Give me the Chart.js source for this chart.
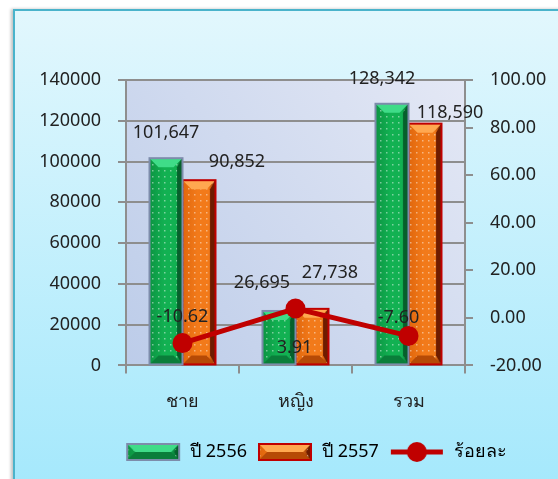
<!DOCTYPE html>
<html>
<head>
<meta charset="utf-8">
<script src="https://cdn.jsdelivr.net/npm/chart.js@4"></script>
<style>
html, body { margin: 0; padding: 0; background: #fff; overflow: hidden; }
#frame { position: absolute; left: 13px; top: 9px; width: 560px; height: 490px;
  border-left: 2px solid #4ab3cb; border-top: 2px solid #4ab3cb;
  background: linear-gradient(#e2f7fd, #a3e8fc); box-shadow: -2px 0 3px rgba(0,0,0,0.25); }
#wrap { position: absolute; left: 0; top: 0; width: 558px; height: 479px; }
</style>
</head>
<body>
<div id="frame"></div>
<div id="wrap"><canvas id="chart"></canvas></div>
<script>
const categories = ['ชาย', 'หญิง', 'รวม']
const year2556 = [101647, 26695, 128342]
const year2557 = [90852, 27738, 118590]
const percent = [-10.62, 3.91, -7.60]
const seriesNames = ['ปี 2556', 'ปี 2557', 'ร้อยละ']
const leftTicks = [0, 140000, 20000]    // min, max, step
const rightTicks = [-20, 100, 20]

// label nudges (px) relative to bar top / point, like the hand-moved labels in the original
const barShift = [[[0, -25], [-17, -28], [-10, -25]], [[38, -18], [18, -36], [25, -11]]]
const lineShift = [[0, -26], [-1, 39], [-10, -18]]

const font = { family: "'Noto Sans', 'DejaVu Sans', sans-serif", size: 18 }
const textColor = '#222'
const gridColor = '#8e8e8e'

const green = { base: '#12b152', left: '#0c9442', light: '#3fdc88', dark: '#06602c', bottom: '#0a7e3a', edge: '#7d8cab' }
const orange = { base: '#f27a1a', left: '#e0660c', light: '#ffa850', dark: '#6e1c00', bottom: '#b64a06', edge: '#c00000' }

// little white dots on the bars
const dotCanvas = document.createElement('canvas')
dotCanvas.width = 6; dotCanvas.height = 6
const dc = dotCanvas.getContext('2d')
dc.fillStyle = 'rgba(255,255,255,0.45)'
dc.fillRect(2, 2, 1.5, 1.5)
const dots = dc.createPattern(dotCanvas, 'repeat')

function drawBevel(c, x, y, w, h, s) {
    const b = Math.max(0, Math.min(9, w / 3.5, h / 2))
    c.save()
    const g = c.createLinearGradient(x, 0, x + w, 0)
    g.addColorStop(0, s.left)
    g.addColorStop(0.45, s.base)
    g.addColorStop(0.8, s.base)
    g.addColorStop(1, s.dark)
    c.fillStyle = g
    c.fillRect(x, y, w, h)
    c.fillStyle = dots
    c.fillRect(x, y, w, h)
    // top facet
    c.fillStyle = s.light
    c.beginPath(); c.moveTo(x, y); c.lineTo(x + w, y); c.lineTo(x + w - b, y + b); c.lineTo(x + b, y + b); c.closePath(); c.fill()
    // right facet
    c.fillStyle = s.dark
    c.beginPath(); c.moveTo(x + w, y); c.lineTo(x + w, y + h); c.lineTo(x + w - b * 0.6, y + h - b); c.lineTo(x + w - b * 0.6, y + b); c.closePath(); c.fill()
    // bottom facet
    c.fillStyle = s.bottom
    c.beginPath(); c.moveTo(x, y + h); c.lineTo(x + w, y + h); c.lineTo(x + w - b, y + h - b); c.lineTo(x + b, y + h - b); c.closePath(); c.fill()
    c.strokeStyle = s.edge
    c.lineWidth = 2
    c.strokeRect(x, y, w, h)
    c.restore()
}

function legendIcon(kind) {
    const cv = document.createElement('canvas')
    cv.width = 56; cv.height = 22
    const c = cv.getContext('2d')
    if (kind === 'line') {
        c.strokeStyle = '#c00000'; c.lineWidth = 5
        c.beginPath(); c.moveTo(2, 11); c.lineTo(54, 11); c.stroke()
        c.fillStyle = '#c00000'
        c.beginPath(); c.arc(28, 11, 10, 0, Math.PI * 2); c.fill()
    } else {
        drawBevel(c, 2, 3, 52, 16, kind)
    }
    return cv
}
const icons = [legendIcon(green), legendIcon(orange), legendIcon('line')]

const plotBg = {
    id: 'plotBg',
    beforeDatasetsDraw(chart) {
        const { ctx, chartArea: a } = chart
        const g = ctx.createLinearGradient(a.left, a.bottom, a.right, a.top)
        g.addColorStop(0, '#bccce9')
        g.addColorStop(1, '#e4e8f5')
        ctx.save()
        ctx.globalCompositeOperation = 'destination-over'
        ctx.fillStyle = g
        ctx.fillRect(a.left, a.top, a.right - a.left, a.bottom - a.top)
        ctx.restore()
    }
}

// legend sits a bit right of the canvas centre in the original
const legendShift = {
    id: 'legendShift',
    afterLayout(chart) {
        chart.legend.left += 37
        chart.legend.right += 37
    }
}

const barLook = {
    id: 'barLook',
    afterDatasetDraw(chart, args) {
        const meta = args.meta
        if (meta.type !== 'bar') return
        const s = args.index === 0 ? green : orange
        meta.data.forEach(el => {
            drawBevel(chart.ctx, el.x - el.width / 2, el.y, el.width, el.base - el.y, s)
        })
    }
}

const valueLabels = {
    id: 'valueLabels',
    afterDatasetsDraw(chart) {
        const c = chart.ctx
        c.save()
        c.font = font.size + 'px ' + font.family
        c.fillStyle = textColor
        c.textAlign = 'center'
        c.textBaseline = 'middle'
        chart.data.datasets.forEach((ds, di) => {
            chart.getDatasetMeta(di).data.forEach((el, i) => {
                const v = ds.data[i]
                if (ds.type === 'line') {
                    c.fillText(v.toFixed(2), el.x + lineShift[i][0], el.y + lineShift[i][1])
                } else {
                    c.fillText(v.toLocaleString('en-US'), el.x + barShift[di][i][0], el.y + barShift[di][i][1])
                }
            })
        })
        c.restore()
    }
}

Chart.defaults.font.family = font.family
Chart.defaults.font.size = font.size
Chart.defaults.color = textColor

const chart = new Chart(document.getElementById('chart'), {
    data: {
        labels: categories,
        datasets: [
            { type: 'bar', label: seriesNames[0], data: year2556, backgroundColor: green.base, borderWidth: 0, yAxisID: 'y', order: 1 },
            { type: 'bar', label: seriesNames[1], data: year2557, backgroundColor: orange.base, borderWidth: 0, yAxisID: 'y', order: 1 },
            { type: 'line', label: seriesNames[2], data: percent, borderColor: '#c00000', backgroundColor: '#c00000',
              borderWidth: 5, pointRadius: 10, pointBackgroundColor: '#c00000', pointBorderWidth: 0, yAxisID: 'y1', order: 0 }
        ]
    },
    options: {
        responsive: true,
        maintainAspectRatio: false,
        animation: false,
        datasets: { bar: { categoryPercentage: 0.584, barPercentage: 1 } },
        layout: { padding: { left: 0, right: 0, top: 80, bottom: 8 } },
        plugins: {
            tooltip: { enabled: false },
            legend: {
                position: 'bottom',
                labels: {
                    usePointStyle: true,
                    pointStyleWidth: 56,
                    padding: 10,
                    color: textColor,
                    generateLabels: () => seriesNames.map((t, i) => ({
                        text: t, pointStyle: icons[i], datasetIndex: i, hidden: false,
                        fillStyle: 'transparent', strokeStyle: 'transparent', lineWidth: 0
                    }))
                }
            }
        },
        scales: {
            x: {
                grid: { drawOnChartArea: false, offset: true, tickLength: 8, color: gridColor, lineWidth: 2 },
                border: { color: gridColor, width: 2 },
                ticks: { padding: 18 },
                afterFit: s => { s.height += 2 }
            },
            y: {
                position: 'left',
                min: leftTicks[0], max: leftTicks[1],
                ticks: { stepSize: leftTicks[2], padding: 17, callback: v => String(v) },
                grid: { color: gridColor, lineWidth: 2, tickLength: 8 },
                border: { color: gridColor, width: 2 },
                afterFit: s => { s.width = 126 }
            },
            y1: {
                position: 'right',
                min: rightTicks[0], max: rightTicks[1],
                ticks: { stepSize: rightTicks[2], padding: 17, callback: v => v.toFixed(2) },
                grid: { drawOnChartArea: false, color: gridColor, lineWidth: 2, tickLength: 8 },
                border: { color: gridColor, width: 2 },
                afterFit: s => { s.width = 93 }
            }
        }
    },
    plugins: [plotBg, legendShift, barLook, valueLabels]
})
</script>
</body>
</html>
